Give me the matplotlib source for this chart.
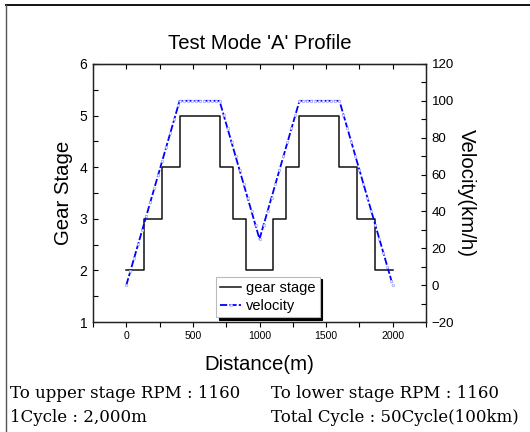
import numpy as np
import matplotlib
matplotlib.use("Agg")
import matplotlib.pyplot as plt
from matplotlib.ticker import MultipleLocator
from matplotlib.lines import Line2D

# gear stage profile (step, held until the next distance)
gear_dist = [0, 133, 267, 400, 700, 800, 900, 1100, 1200, 1300, 1600, 1733, 1867, 2000]
gear_stage = [2, 3, 4, 5, 4, 3, 2, 3, 4, 5, 4, 3, 2, 2]

# velocity samples (km/h)
vel_dist = [0, 30, 60, 90, 120, 150, 180, 210, 240, 270, 300, 330, 360, 390, 400,
            430, 460, 490, 520, 550, 580, 610, 640, 670, 700,
            730, 760, 790, 820, 850, 880, 910, 940, 970, 1000,
            1030, 1060, 1090, 1120, 1150, 1180, 1210, 1240, 1270, 1300,
            1330, 1360, 1390, 1420, 1450, 1480, 1510, 1540, 1570, 1600,
            1630, 1660, 1690, 1720, 1750, 1780, 1810, 1840, 1870, 1900,
            1930, 1960, 1990, 2000]
vel_kmh = [0, 7.5, 15, 22.5, 30, 37.5, 45, 52.5, 60, 67.5, 75, 82.5, 90, 97.5, 100,
           100, 100, 100, 100, 100, 100, 100, 100, 100, 100,
           92.5, 85, 77.5, 70, 62.5, 55, 47.5, 40, 32.5, 25,
           32.5, 40, 47.5, 55, 62.5, 70, 77.5, 85, 92.5, 100,
           100, 100, 100, 100, 100, 100, 100, 100, 100, 100,
           92.5, 85, 77.5, 70, 62.5, 55, 47.5, 40, 32.5, 25,
           17.5, 10, 2.5, 0]

notes_left = ["To upper stage RPM : 1160", "1Cycle : 2,000m"]
notes_right = ["To lower stage RPM : 1160", "Total Cycle : 50Cycle(100km)"]

plt.rcParams['font.family'] = ['Liberation Sans', 'DejaVu Sans']

fig = plt.figure(figsize=(5.3, 4.32), dpi=100)
ax = fig.add_axes([0.1755, 0.2546, 0.6283, 0.5973])
ax2 = ax.twinx()

l1, = ax.step(gear_dist, gear_stage, where='post', color='#111111', lw=1.1)
l2, = ax2.plot(vel_dist, vel_kmh, color='#0000ff', lw=1.3, ls=(0, (4, 1.2)),
               marker='o', ms=1.8, mfc='white', mec='#a0a0ff', mew=0.5)

ax.set_xlim(-250, 2250)
ax.set_ylim(1, 6)
ax2.set_ylim(-20, 120)

ax.xaxis.set_major_locator(MultipleLocator(500))
ax.xaxis.set_minor_locator(MultipleLocator(250))
ax.yaxis.set_major_locator(MultipleLocator(1))
ax.yaxis.set_minor_locator(MultipleLocator(0.5))
ax2.yaxis.set_major_locator(MultipleLocator(20))
ax2.yaxis.set_minor_locator(MultipleLocator(10))

ax.tick_params(axis='x', which='both', direction='out', length=3.5, width=0.8,
               labelsize=7.5, pad=3)
ax.tick_params(axis='y', which='both', direction='in', length=3.5, width=0.8,
               labelsize=10, pad=4)
ax2.tick_params(axis='y', which='both', direction='in', length=3.5, width=0.8,
                labelsize=9.5, pad=4)

# inward ticks along the top edge
top = ax.secondary_xaxis('top')
top.xaxis.set_major_locator(MultipleLocator(250))
top.tick_params(direction='in', length=3.5, width=0.8, labeltop=False)

for a in (ax, ax2):
    for s in a.spines.values():
        s.set_linewidth(0.9)
        s.set_color('#222222')

ax.set_xlabel("Distance(m)", fontsize=14.7, labelpad=10)
ax.set_ylabel("Gear Stage", fontsize=14.7, labelpad=5)
ax2.set_ylabel("Velocity(km/h)", fontsize=14.7, rotation=270, labelpad=16)
ax.set_title("Test Mode 'A' Profile", fontsize=14.6, pad=11)

leg = ax2.legend([l1, l2], ["gear stage", "velocity"], loc='lower left',
                 bbox_to_anchor=(0.369, 0.019), borderaxespad=0, fontsize=10.5,
                 fancybox=False, edgecolor='#bbbbbb', framealpha=1,
                 shadow={'color': 'black', 'alpha': 1}, handlelength=1.45,
                 handletextpad=0.3, borderpad=0.3, labelspacing=0.25)
leg.get_frame().set_linewidth(0.8)

# outer frame of the figure panel
fig.add_artist(Line2D([6 / 530, 1], [1 - 4.5 / 432] * 2, color='#111111', lw=1.4))
fig.add_artist(Line2D([6 / 530] * 2, [0, 1 - 4.5 / 432], color='#555555', lw=1.0))

serif = ['DejaVu Serif']
for i, (a, b) in enumerate(zip(notes_left, notes_right)):
    y = 1 - (394 + 23 * i) / 432
    fig.text(10 / 530, y, a, family=serif, fontsize=12, va='center', ha='left')
    fig.text(271 / 530, y, b, family=serif, fontsize=12, va='center', ha='left')

fig.savefig("out.png", dpi=100)
